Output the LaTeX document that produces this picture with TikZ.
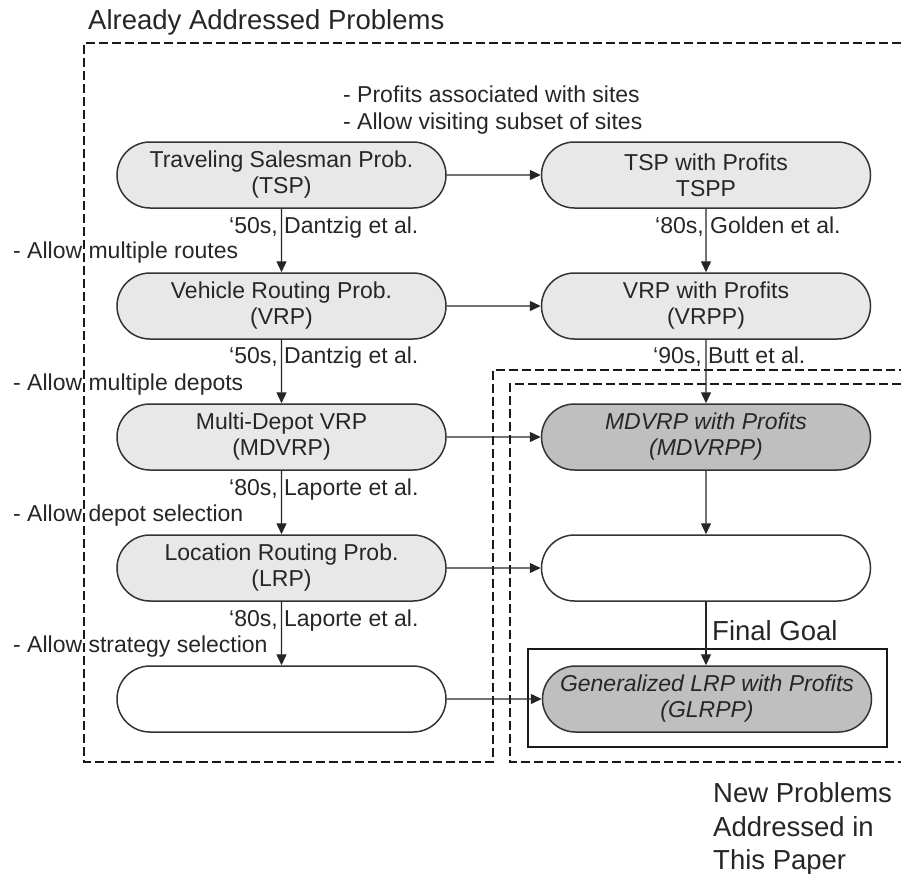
\documentclass[tikz,border=0pt]{standalone}
\usepackage{fontspec}
\setmainfont{Liberation Sans}
\usetikzlibrary{arrows.meta,shapes.misc}
\begin{document}
\begin{tikzpicture}[x=1pt,y=-1pt,
  prob/.style={rounded rectangle, draw=black!80, line width=1.5pt, minimum width=329pt, minimum height=66pt, inner sep=0pt, align=center, font=\fontsize{23}{26}\selectfont, text=black!85},
  light/.style={prob, fill=black!9},
  blank/.style={prob, fill=white},
  dark/.style={prob, fill=black!25, font=\fontsize{23}{26}\selectfont\itshape},
  lbl/.style={anchor=base west, inner sep=0pt, font=\fontsize{23}{26}\selectfont, text=black!85},
  big/.style={anchor=base west, inner sep=0pt, font=\fontsize{27.5}{33}\selectfont, text=black!85},
  conn/.style={draw=black!85, line width=1.4pt, -{Triangle[length=11pt,width=10pt]}},
  region/.style={draw=black!90, line width=2.4pt, dash pattern=on 9pt off 4pt},
]
\useasboundingbox (0,0) rectangle (901,873);

% regions
\draw[region] (901,43) -- (84,43) -- (84,762) -- (493,762) -- (493,370) -- (901,370);
\draw[region] (901,384) -- (510,384) -- (510,762) -- (901,762);
\draw[draw=black!90, line width=2.4pt] (528,649) rectangle (887,747);

% titles
\node[big] (title) at (88,29) {Already Addressed Problems};
\node[big] (goal) at (712,640) {Final Goal};
\node[big] (np1) at (713,802) {New Problems};
\node[big] (np2) at (713,836) {Addressed in};
\node[big] (np3) at (713,869) {This Paper};

% problem nodes
\node[light] (tsp)   at (281.5,175) {Traveling Salesman Prob.\\(TSP)};
\node[light] (vrp)   at (281.5,306) {Vehicle Routing Prob.\\(VRP)};
\node[light] (mdvrp) at (281.5,437) {Multi-Depot VRP\\(MDVRP)};
\node[light] (lrp)   at (281.5,568) {Location Routing Prob.\\(LRP)};
\node[blank] (gen)   at (281.5,699) {};
\node[light] (tspp)  at (706,175) {TSP with Profits\\TSPP};
\node[light] (vrpp)  at (706,306) {VRP with Profits\\(VRPP)};
\node[dark]  (mdvrpp) at (706,437) {MDVRP with Profits\\(MDVRPP)};
\node[blank] (lrpp)  at (706,568) {};
\node[dark]  (glrpp) at (707,699) {Generalized LRP with Profits\\(GLRPP)};

% labels
\node[lbl] (p1) at (343,102) {- Profits associated with sites};
\node[lbl] (p2) at (343,129) {- Allow visiting subset of sites};
\node[lbl] (d1) at (229,233) {‘50s, Dantzig et al.};
\node[lbl] (g1) at (655,233) {‘80s, Golden et al.};
\node[lbl] (a1) at (13,258) {- Allow multiple routes};
\node[lbl] (d2) at (229,363) {‘50s, Dantzig et al.};
\node[lbl] (b1) at (653,363) {‘90s, Butt et al.};
\node[lbl] (a2) at (13,390) {- Allow multiple depots};
\node[lbl] (l1) at (229,495) {‘80s, Laporte et al.};
\node[lbl] (a3) at (13,521) {- Allow depot selection};
\node[lbl] (l2) at (229,626) {‘80s, Laporte et al.};
\node[lbl] (a4) at (13,652) {- Allow strategy selection};

% connectors
\draw[conn] (tsp) -- (vrp);
\draw[conn] (vrp) -- (mdvrp);
\draw[conn] (mdvrp) -- (lrp);
\draw[conn] (lrp) -- (gen);
\draw[conn] (tspp) -- (vrpp);
\draw[conn] (vrpp) -- (mdvrpp);
\draw[conn] (mdvrpp) -- (lrpp);
\draw[conn] (lrpp) -- (lrpp |- glrpp.north);
\draw[conn] (tsp) -- (tspp);
\draw[conn] (vrp) -- (vrpp);
\draw[conn] (mdvrp) -- (mdvrpp);
\draw[conn] (lrp) -- (lrpp);
\draw[conn] (gen) -- (glrpp);
\end{tikzpicture}
\end{document}
